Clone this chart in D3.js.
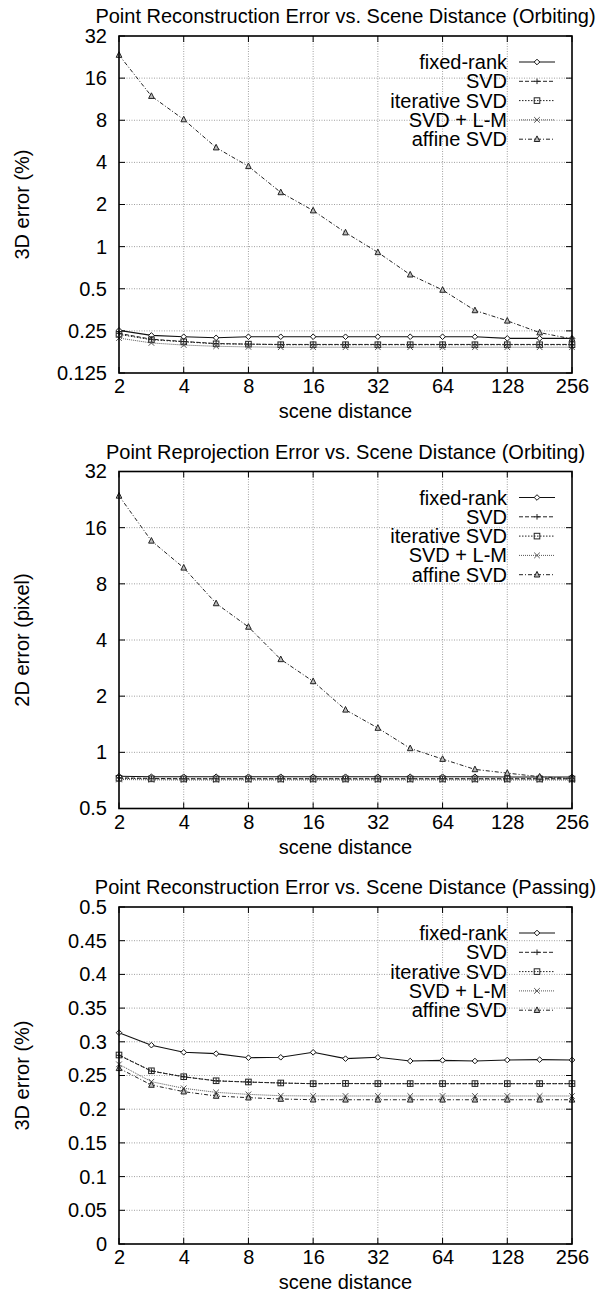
<!DOCTYPE html>
<html>
<head>
<meta charset="utf-8">
<script src="https://cdn.jsdelivr.net/npm/d3@7"></script>
<style>
  html, body { margin: 0; padding: 0; background: #fff; }
  svg { display: block; }
  text { font-family: "Liberation Sans", Arial, Helvetica, sans-serif; fill: #000; }
</style>
</head>
<body>
<svg id="chart" width="600" height="1293"></svg>
<script>
// ---------------- data ----------------
const sceneDistance = [2, 2.83, 4, 5.66, 8, 11.31, 16, 22.63, 32, 45.25, 64, 90.51, 128, 181.02, 256];
const xTickValues = [2, 4, 8, 16, 32, 64, 128, 256];
const seriesNames = ["fixed-rank", "SVD", "iterative SVD", "SVD + L-M", "affine SVD"];

const titles = [
  "Point Reconstruction Error vs. Scene Distance (Orbiting)",
  "Point Reprojection Error vs. Scene Distance (Orbiting)",
  "Point Reconstruction Error vs. Scene Distance (Passing)"
];
const yLabels = ["3D error (%)", "2D error (pixel)", "3D error (%)"];
const xLabel = "scene distance";

// Panel 1: reconstruction error, orbiting (log2 y)
const p1Ticks = [0.125, 0.25, 0.5, 1, 2, 4, 8, 16, 32];
const p1FixedRank = [0.252, 0.232, 0.227, 0.223, 0.227, 0.227, 0.227, 0.227, 0.227, 0.227, 0.227, 0.227, 0.221, 0.221, 0.221];
const p1SVD       = [0.240, 0.218, 0.210, 0.203, 0.201, 0.200, 0.200, 0.200, 0.200, 0.200, 0.200, 0.200, 0.200, 0.200, 0.200];
const p1IterSVD   = [0.236, 0.216, 0.209, 0.202, 0.201, 0.199, 0.199, 0.199, 0.199, 0.199, 0.199, 0.199, 0.199, 0.199, 0.199];
const p1SVDLM     = [0.222, 0.205, 0.198, 0.194, 0.192, 0.191, 0.191, 0.191, 0.191, 0.191, 0.191, 0.191, 0.191, 0.191, 0.191];
const p1Affine    = [23.4, 11.9, 8.1, 5.1, 3.75, 2.44, 1.81, 1.26, 0.91, 0.63, 0.49, 0.35, 0.295, 0.243, 0.219];

// Panel 2: reprojection error, orbiting (log2 y)
const p2Ticks = [0.5, 1, 2, 4, 8, 16, 32];
const p2FixedRank = [0.745, 0.740, 0.740, 0.740, 0.740, 0.740, 0.740, 0.740, 0.740, 0.740, 0.740, 0.740, 0.738, 0.738, 0.738];
const p2SVD       = [0.730, 0.725, 0.722, 0.722, 0.722, 0.722, 0.722, 0.722, 0.722, 0.722, 0.722, 0.722, 0.722, 0.722, 0.722];
const p2IterSVD   = [0.726, 0.721, 0.720, 0.720, 0.720, 0.720, 0.720, 0.720, 0.720, 0.720, 0.720, 0.720, 0.720, 0.720, 0.720];
const p2SVDLM     = [0.715, 0.712, 0.711, 0.711, 0.711, 0.711, 0.711, 0.711, 0.711, 0.711, 0.711, 0.711, 0.711, 0.711, 0.711];
const p2Affine    = [23.7, 13.6, 9.75, 6.28, 4.70, 3.15, 2.40, 1.69, 1.35, 1.05, 0.92, 0.81, 0.774, 0.74, 0.724];

// Panel 3: reconstruction error, passing (linear y)
const p3Ticks = [0, 0.05, 0.1, 0.15, 0.2, 0.25, 0.3, 0.35, 0.4, 0.45, 0.5];
const p3FixedRank = [0.3135, 0.295, 0.2844, 0.2824, 0.2764, 0.277, 0.2844, 0.275, 0.277, 0.2715, 0.2725, 0.2715, 0.273, 0.2735, 0.273];
const p3SVD       = [0.2800, 0.2565, 0.2480, 0.2420, 0.2402, 0.2388, 0.2378, 0.2380, 0.2378, 0.2378, 0.2378, 0.2378, 0.2378, 0.2378, 0.2378];
const p3IterSVD   = [0.2804, 0.2570, 0.2482, 0.2422, 0.2404, 0.2389, 0.2379, 0.2382, 0.2380, 0.2380, 0.2380, 0.2380, 0.2380, 0.2380, 0.2380];
const p3SVDLM     = [0.2666, 0.2408, 0.2310, 0.2250, 0.2220, 0.2200, 0.2196, 0.2196, 0.2196, 0.2196, 0.2196, 0.2196, 0.2196, 0.2196, 0.2196];
const p3Affine    = [0.2607, 0.2359, 0.2260, 0.2196, 0.2171, 0.2151, 0.2141, 0.2140, 0.2140, 0.2140, 0.2140, 0.2140, 0.2140, 0.2140, 0.2140];

// ---------------- layout / style ----------------
const plotLeft = 119, plotRight = 572, plotH = 337;
const panelTops = [36, 471.5, 907];
const FS = 20;

const styles = [
  { dash: null,        color: "#111", width: 1.1, marker: "diamond" },
  { dash: "4,2",       color: "#222", width: 1.0, marker: "plus" },
  { dash: "1.5,1.5",   color: "#222", width: 1.0, marker: "square" },
  { dash: "1,1",       color: "#555", width: 1.0, marker: "cross" },
  { dash: "4,2,1,2",   color: "#222", width: 1.0, marker: "triangle" }
];

const panels = [
  { scale: "log", domain: [0.125, 32], ticks: p1Ticks, fmt: d => String(d),
    series: [p1FixedRank, p1SVD, p1IterSVD, p1SVDLM, p1Affine] },
  { scale: "log", domain: [0.5, 32], ticks: p2Ticks, fmt: d => String(d),
    series: [p2FixedRank, p2SVD, p2IterSVD, p2SVDLM, p2Affine] },
  { scale: "lin", domain: [0, 0.5], ticks: p3Ticks, fmt: d => String(+d.toFixed(2)),
    series: [p3FixedRank, p3SVD, p3IterSVD, p3SVDLM, p3Affine] }
];

const svg = d3.select("#chart");

function drawMarker(g, type, x, y, color) {
  const s = 2.8;
  if (type === "diamond") {
    g.append("path").attr("d", `M${x},${y - s}L${x + s},${y}L${x},${y + s}L${x - s},${y}Z`)
      .attr("fill", "#fff").attr("stroke", color).attr("stroke-width", 1);
  } else if (type === "plus") {
    g.append("path").attr("d", `M${x - s},${y}H${x + s}M${x},${y - s}V${y + s}`)
      .attr("stroke", color).attr("stroke-width", 1).attr("fill", "none");
  } else if (type === "square") {
    g.append("rect").attr("x", x - s).attr("y", y - s).attr("width", 2 * s).attr("height", 2 * s)
      .attr("fill", "none").attr("stroke", color).attr("stroke-width", 1);
  } else if (type === "cross") {
    g.append("path").attr("d", `M${x - s},${y - s}L${x + s},${y + s}M${x - s},${y + s}L${x + s},${y - s}`)
      .attr("stroke", color).attr("stroke-width", 1).attr("fill", "none");
  } else if (type === "triangle") {
    g.append("path").attr("d", `M${x},${y - s - 0.5}L${x + s},${y + s - 0.5}L${x - s},${y + s - 0.5}Z`)
      .attr("fill", "#bbb").attr("stroke", color).attr("stroke-width", 1);
  }
}

panels.forEach((p, pi) => {
  const top = panelTops[pi], bottom = top + plotH;
  const g = svg.append("g");

  const x = d3.scaleLog().base(2).domain([2, 256]).range([plotLeft, plotRight]);
  const y = (p.scale === "log" ? d3.scaleLog().base(2) : d3.scaleLinear())
    .domain(p.domain).range([bottom, top]);

  // grid
  const grid = g.append("g").attr("stroke", "#888").attr("stroke-width", 0.8).attr("stroke-dasharray", "1,1.5");
  xTickValues.slice(1, -1).forEach(v => {
    grid.append("line").attr("x1", x(v)).attr("x2", x(v)).attr("y1", top).attr("y2", bottom);
  });
  p.ticks.slice(1, -1).forEach(v => {
    grid.append("line").attr("x1", plotLeft).attr("x2", plotRight).attr("y1", y(v)).attr("y2", y(v));
  });

  // axes (labels via d3 axes)
  const yAxis = d3.axisLeft(y).tickValues(p.ticks).tickFormat(p.fmt).tickSize(0).tickPadding(12);
  const ya = g.append("g").attr("transform", `translate(${plotLeft},0)`).call(yAxis);
  ya.select(".domain").remove();
  ya.selectAll("text").attr("font-size", FS).attr("font-family", "Liberation Sans, Arial, sans-serif").attr("fill", "#000");

  const xAxis = d3.axisBottom(x).tickValues(xTickValues).tickFormat(d => String(d)).tickSize(0).tickPadding(6);
  const xa = g.append("g").attr("transform", `translate(0,${bottom})`).call(xAxis);
  xa.select(".domain").remove();
  xa.selectAll("text").attr("font-size", FS).attr("font-family", "Liberation Sans, Arial, sans-serif").attr("fill", "#000");

  // inward ticks on all sides
  const tk = g.append("g").attr("stroke", "#000").attr("stroke-width", 1);
  xTickValues.forEach(v => {
    tk.append("line").attr("x1", x(v)).attr("x2", x(v)).attr("y1", bottom).attr("y2", bottom - 6);
    tk.append("line").attr("x1", x(v)).attr("x2", x(v)).attr("y1", top).attr("y2", top + 6);
  });
  p.ticks.forEach(v => {
    tk.append("line").attr("x1", plotLeft).attr("x2", plotLeft + 6).attr("y1", y(v)).attr("y2", y(v));
    tk.append("line").attr("x1", plotRight).attr("x2", plotRight - 6).attr("y1", y(v)).attr("y2", y(v));
  });

  // series
  const line = d3.line().x((d, i) => x(sceneDistance[i])).y(d => y(d));
  p.series.forEach((vals, si) => {
    const st = styles[si];
    g.append("path").datum(vals).attr("d", line)
      .attr("fill", "none").attr("stroke", st.color).attr("stroke-width", st.width)
      .attr("stroke-dasharray", st.dash);
    const mg = g.append("g");
    vals.forEach((v, i) => drawMarker(mg, st.marker, x(sceneDistance[i]), y(v), st.color));
  });

  // frame
  g.append("rect").attr("x", plotLeft).attr("y", top).attr("width", plotRight - plotLeft).attr("height", plotH)
    .attr("fill", "none").attr("stroke", "#000").attr("stroke-width", 1.6);

  // legend
  const lg = g.append("g");
  seriesNames.forEach((name, si) => {
    const ly = top + 26 + si * 19.3;
    const st = styles[si];
    lg.append("text").attr("x", 507).attr("y", ly).attr("dy", "0.35em").attr("text-anchor", "end")
      .attr("font-size", FS).text(name);
    lg.append("line").attr("x1", 519).attr("x2", 555).attr("y1", ly).attr("y2", ly)
      .attr("stroke", st.color).attr("stroke-width", st.width).attr("stroke-dasharray", st.dash);
    drawMarker(lg, st.marker, 537, ly, st.color);
  });

  // title
  g.append("text").attr("x", (plotLeft + plotRight) / 2).attr("y", top - 13)
    .attr("text-anchor", "middle").attr("font-size", FS).text(titles[pi]);

  // x label
  g.append("text").attr("x", (plotLeft + plotRight) / 2).attr("y", bottom + 45)
    .attr("text-anchor", "middle").attr("font-size", FS).text(xLabel);

  // y label
  g.append("text").attr("transform", `translate(29,${(top + bottom) / 2}) rotate(-90)`)
    .attr("text-anchor", "middle").attr("font-size", FS).text(yLabels[pi]);
});
</script>
</body>
</html>
